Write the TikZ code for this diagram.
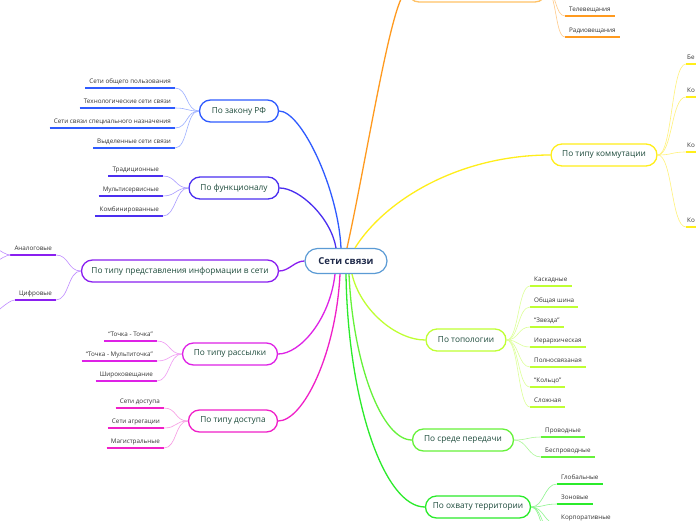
\documentclass[tikz,border=0pt]{standalone}
\usepackage{fontspec}
\setmainfont{Open Sans}
\definecolor{hubc}{HTML}{5B9BD5}
\definecolor{hubtext}{HTML}{1F2A4A}
\definecolor{cattext}{HTML}{1E4B3C}
\definecolor{leaftext}{HTML}{333333}
\definecolor{cZakon}{HTML}{2F5BFF}\definecolor{cZakonL}{HTML}{9DB0FF}
\definecolor{cFunc}{HTML}{4B2FF0}\definecolor{cFuncL}{HTML}{A99BFF}
\definecolor{cPred}{HTML}{8A1FF0}\definecolor{cPredL}{HTML}{C08CFF}
\definecolor{cRass}{HTML}{DE22E6}\definecolor{cRassL}{HTML}{F09AF3}
\definecolor{cDost}{HTML}{F020C8}\definecolor{cDostL}{HTML}{F79AE3}
\definecolor{cOr}{HTML}{FF9A1F}\definecolor{cOrL}{HTML}{FFCB8A}\definecolor{cOrB}{HTML}{FFC266}
\definecolor{cYel}{HTML}{FFEE1A}\definecolor{cYelL}{HTML}{FFF27A}
\definecolor{cTopo}{HTML}{BFFF33}\definecolor{cTopoL}{HTML}{DDFF99}
\definecolor{cSreda}{HTML}{66F23A}\definecolor{cSredaL}{HTML}{AEF79A}
\definecolor{cOhvat}{HTML}{2BEB2B}\definecolor{cOhvatL}{HTML}{8DF58D}
\tikzset{
  hub/.style={draw=hubc, line width=1.2pt, rounded corners=12.5pt, fill=white,
    minimum width=82pt, minimum height=25pt, inner sep=0pt,
    font=\fontsize{9.5}{11}\selectfont\bfseries, text=hubtext},
  cat/.style={draw=#1, line width=1.3pt, rounded corners=11pt, fill=white,
    minimum height=22pt, inner xsep=0pt, inner ysep=0pt,
    font=\fontsize{8.3}{9}\selectfont, text=cattext},
  leafL/.style={anchor=south east, inner xsep=4pt, inner ysep=2.5pt,
    text height=4.8pt, text depth=1.4pt, font=\fontsize{6.3}{7}\selectfont, text=leaftext},
  leafR/.style={leafL, anchor=south west},
  ul/.style={draw=#1, line width=1.8pt},
  sub/.style={draw=#1, line width=0.6pt},
  br/.style={draw=#1, line width=1.3pt}
}
\begin{document}
\begin{tikzpicture}[x=1pt,y=-1pt]
\useasboundingbox (0,0) rectangle (696,520);
\fill[white] (0,0) rectangle (696,520);

% category nodes
\node[hub] (hub) at (346,261) {Сети связи};
\node[cat=cZakon, minimum width=79pt] (zakon) at (239,111) {По закону РФ};
\node[cat=cFunc, minimum width=90pt] (func) at (234,188) {По функционалу};
\node[cat=cPred, minimum width=197pt] (pred) at (180,271) {По типу представления информации в сети};
\node[cat=cRass, minimum width=95pt] (rass) at (230,354) {По типу рассылки};
\node[cat=cDost, minimum width=89pt] (dost) at (233,421) {По типу доступа};
\node[cat=cOrB, minimum width=138pt] (orn) at (477,-9) {};
\node[cat=cYel, minimum width=106pt] (komm) at (604,155) {По типу коммутации};
\node[cat=cTopo, minimum width=80pt] (topo) at (466,340) {По топологии};
\node[cat=cSreda, minimum width=101pt] (sreda) at (463,440) {По среде передачи};
\node[cat=cOhvat, minimum width=105pt] (ohvat) at (478,507) {По охвату территории};

% main branches
\draw[br=cZakon] ([xshift=-5pt]hub.north) .. controls +(-3,-60) and +(22,0) .. (zakon.east);
\draw[br=cFunc] ([xshift=-10pt]hub.north) .. controls +(-5,-30) and +(20,0) .. (func.east);
\draw[br=cPred] (hub.west) .. controls +(-10,0) and +(10,0) .. (pred.east);
\draw[br=cRass] ([xshift=-11pt]hub.south) .. controls +(-5,45) and +(22,0) .. (rass.east);
\draw[br=cDost] ([xshift=-6pt]hub.south) .. controls +(-4,80) and +(25,0) .. (dost.east);
\draw[br=cOr] ([xshift=1pt]hub.north) .. controls +(20,-90) and +(-15,0) .. (orn.west);
\draw[br=cYel] ([xshift=9pt]hub.north) .. controls +(30,-48) and +(-91,0) .. (komm.west);
\draw[br=cTopo] ([xshift=6pt]hub.south) .. controls +(8,35) and +(-30,0) .. (topo.west);
\draw[br=cSreda] ([xshift=3pt]hub.south) .. controls +(4,90) and +(-30,0) .. (sreda.west);
\draw[br=cOhvat] ([xshift=0pt]hub.south) .. controls +(2,130) and +(-40,0) .. (ohvat.west);

% left leaves
\foreach \n/\x/\y/\t in {z1/175/88/Сети общего пользования, z2/175/108/Технологические сети связи,
  z3/175/128/Сети связи специального назначения, z4/175/148/Выделенные сети связи}{
  \node[leafL] (\n) at (\x,\y) {\t};
  \draw[ul=cZakon] (\n.south west) -- (\n.south east);
  \draw[sub=cZakonL] (zakon.west) .. controls +(-13,0) and +(13,0) .. (\n.south east);
}
\foreach \n/\x/\y/\t in {f1/163/176/Традиционные, f2/163/196/Мультисервисные, f3/163/216/Комбинированные}{
  \node[leafL] (\n) at (\x,\y) {\t};
  \draw[ul=cFunc] (\n.south west) -- (\n.south east);
  \draw[sub=cFuncL] (func.west) .. controls +(-13,0) and +(13,0) .. (\n.south east);
}
\foreach \n/\x/\y/\t in {p1/56/255/Аналоговые, p2/56/300/Цифровые}{
  \node[leafL] (\n) at (\x,\y) {\t};
  \draw[ul=cPred] (\n.south west) -- (\n.south east);
  \draw[sub=cPredL] (pred.west) .. controls +(-13,0) and +(13,0) .. (\n.south east);
}
\coordinate (pa1) at (-20,240);
\coordinate (pa2) at (-20,270);
\coordinate (pc1) at (-20,322);
\draw[sub=cPredL] (p1.south west) .. controls +(-8,0) and +(8,0) .. (pa1);
\draw[sub=cPredL] (p1.south west) .. controls +(-8,0) and +(8,0) .. (pa2);
\draw[sub=cPredL] (p2.south west) .. controls +(-8,0) and +(8,0) .. (pc1);
\foreach \n/\x/\y/\t in {r1/157/341/“Точка - Точка”, r2/157/361/“Точка - Мультиточка”, r3/157/381/Широковещание}{
  \node[leafL] (\n) at (\x,\y) {\t};
  \draw[ul=cRass] (\n.south west) -- (\n.south east);
  \draw[sub=cRassL] (rass.west) .. controls +(-13,0) and +(13,0) .. (\n.south east);
}
\foreach \n/\x/\y/\t in {d1/164/408/Сети доступа, d2/164/428/Сети агрегации, d3/164/448/Магистральные}{
  \node[leafL] (\n) at (\x,\y) {\t};
  \draw[ul=cDost] (\n.south west) -- (\n.south east);
  \draw[sub=cDostL] (dost.west) .. controls +(-13,0) and +(13,0) .. (\n.south east);
}

% right leaves
\foreach \n/\x/\y/\t in {o1/565/16/Телевещания, o2/565/37/Радиовещания}{
  \node[leafR] (\n) at (\x,\y) {\t};
  \draw[ul=cOr] (\n.south west) -- (\n.south east);
  \draw[sub=cOrL] (orn.east) .. controls +(10,0) and +(-10,0) .. (\n.south west);
}
\foreach \n/\x/\y/\t in {k1/686/64/Бе, k2/686/97/Ко, k3/686/152/Ко, k4/686/227/Ко}{
  \node[leafR, inner xsep=1pt, text width=18pt, align=left] (\n) at (\x,\y) {\t};
  \draw[ul=cYel] (\n.south west) -- (\n.south east);
  \draw[sub=cYelL] (komm.east) .. controls +(15,0) and +(-15,0) .. (\n.south west);
}
\foreach \n/\x/\y/\t in {t1/530/286/Каскадные, t2/530/307/Общая шина, t3/530/327/“Звезда”,
  t4/530/347/Иерархическая, t5/530/367/Полносвязаная, t6/530/387/“Кольцо”, t7/530/407/Сложная}{
  \node[leafR] (\n) at (\x,\y) {\t};
  \draw[ul=cTopo] (\n.south west) -- (\n.south east);
  \draw[sub=cTopoL] (topo.east) .. controls +(12,0) and +(-12,0) .. (\n.south west);
}
\foreach \n/\x/\y/\t in {s1/541/437/Проводные, s2/541/457/Беспроводные}{
  \node[leafR] (\n) at (\x,\y) {\t};
  \draw[ul=cSreda] (\n.south west) -- (\n.south east);
  \draw[sub=cSredaL] (sreda.east) .. controls +(13,0) and +(-13,0) .. (\n.south west);
}
\foreach \n/\x/\y/\t in {h1/557/484/Глобальные, h2/557/504/Зоновые, h3/557/524/Корпоративные}{
  \node[leafR] (\n) at (\x,\y) {\t};
  \draw[ul=cOhvat] (\n.south west) -- (\n.south east);
  \draw[sub=cOhvatL] (ohvat.east) .. controls +(13,0) and +(-13,0) .. (\n.south west);
}
\coordinate (hx1) at (557,544);
\coordinate (hx2) at (557,564);
\draw[sub=cOhvatL] (ohvat.east) .. controls +(13,0) and +(-13,0) .. (hx1);
\draw[sub=cOhvatL] (ohvat.east) .. controls +(13,0) and +(-13,0) .. (hx2);
\end{tikzpicture}
\end{document}
